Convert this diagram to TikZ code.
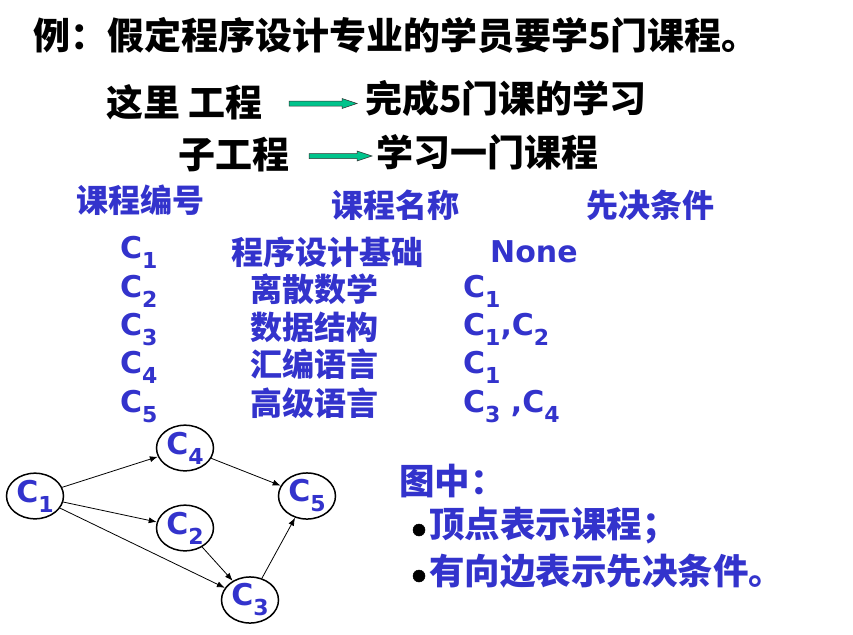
\documentclass[tikz,border=0pt]{standalone}
\usepackage{fontspec}
\setmainfont{DejaVu Sans}
\newfontfamily\cjk{Noto Sans CJK SC}
\usetikzlibrary{shapes.geometric,arrows.meta,calc}

\definecolor{navy}{RGB}{51,51,204}
\definecolor{teal}{RGB}{0,196,140}

% course label: C with a lowered index
\newcommand\course[1]{C\raisebox{-10pt}{\fontsize{22}{24}\selectfont #1}}

% horizontal block arrow between two named coordinates
\newcommand\blockarrow[2]{%
  \draw[arrowbody] ($(#1)+(0,2.5)$) -- ($(#2)+(-15,2.5)$) -- ($(#2)+(-15,5)$)
    -- (#2) -- ($(#2)+(-15,-5)$) -- ($(#2)+(-15,-2.5)$) -- ($(#1)+(0,-2.5)$) -- cycle;}

\tikzset{
  txt/.style={inner sep=0pt, anchor=west},
  big/.style={txt, font=\cjk\bfseries\fontsize{37}{40}\selectfont},
  head/.style={txt, text=navy, font=\cjk\bfseries\fontsize{32}{36}\selectfont},
  cname/.style={txt, text=navy, font=\cjk\bfseries\fontsize{32}{36}\selectfont},
  clab/.style={inner sep=0pt, anchor=base west, text=navy, font=\bfseries\fontsize{30}{32}\selectfont},
  note/.style={txt, text=navy, font=\cjk\bfseries\fontsize{35.5}{38}\selectfont},
  bulletdot/.style={circle, fill=black, draw=black, line width=0.5pt, inner sep=0pt, minimum size=12pt},
  arrowbody/.style={fill=teal, draw=black!80, line width=0.5pt, line join=miter},
  vert/.style={ellipse, draw, line width=1.5pt, minimum width=57pt, minimum height=41pt,
               inner sep=0pt, text=navy, font=\bfseries\fontsize{30}{32}\selectfont},
  edge/.style={line width=0.8pt, -{Latex[length=8pt,width=6pt]}}
}

\begin{document}
\begin{tikzpicture}[x=1pt,y=-1pt]
\useasboundingbox (0,0) rectangle (853,634);

% heading
\node[big] (title) at (33,35) {例：假定程序设计专业的学员要学5门课程。};

% project / sub-project lines
\node[big] (proj) at (106,102) {这里 工程};
\node[big] (projdesc) at (365,98) {完成5门课的学习};
\coordinate (a1s) at (289,103.5);
\coordinate (a1e) at (357,103.5);
\blockarrow{a1s}{a1e}

\node[big] (sub) at (178,155) {子工程};
\node[big] (subdesc) at (376,152) {学习一门课程};
\coordinate (a2s) at (309,156);
\coordinate (a2e) at (372,156);
\blockarrow{a2s}{a2e}

% table header
\node[head] (h1) at (76,200) {课程编号};
\node[head] (h2) at (331,205) {课程名称};
\node[head] (h3) at (586,205) {先决条件};

% table rows
\node[clab] (id1) at (120,258) {\course{1}};
\node[clab] (id2) at (120,297) {\course{2}};
\node[clab] (id3) at (120,335) {\course{3}};
\node[clab] (id4) at (120,373) {\course{4}};
\node[clab] (id5) at (120,412) {\course{5}};

\node[cname] (n1) at (231,252) {程序设计基础};
\node[cname] (n2) at (250,289) {离散数学};
\node[cname] (n3) at (250,327) {数据结构};
\node[cname] (n4) at (250,364) {汇编语言};
\node[cname] (n5) at (250,403) {高级语言};

\node[clab] (p1) at (490,262) {None};
\node[clab] (p2) at (463,297) {\course{1}};
\node[clab] (p3) at (463,335) {\course{1},\course{2}};
\node[clab] (p4) at (463,373) {\course{1}};
\node[clab] (p5) at (463,412) {\course{3} ,\course{4}};

% precedence graph
\node[vert] (c1) at (35,496) {\course{1}};
\node[vert] (c4) at (185,448) {\course{4}};
\node[vert] (c2) at (185,528) {\course{2}};
\node[vert] (c3) at (250,600) {\course{3}};
\node[vert] (c5) at (307,496) {\course{5}};

\draw[edge] (c1) -- (c4);
\draw[edge] (c1) -- (c2);
\draw[edge] (c1) -- (c3);
\draw[edge] (c4) -- (c5);
\draw[edge] (c2) -- (c3);
\draw[edge] (c3) -- (c5);

% legend
\node[note] (legend) at (399,481) {图中：};
\node[bulletdot] (b1) at (419,530) {};
\node[note] (l1) at (429,526) {顶点表示课程；};
\node[bulletdot] (b2) at (419,576) {};
\node[note] (l2) at (429,571) {有向边表示先决条件。};
\end{tikzpicture}
\end{document}
